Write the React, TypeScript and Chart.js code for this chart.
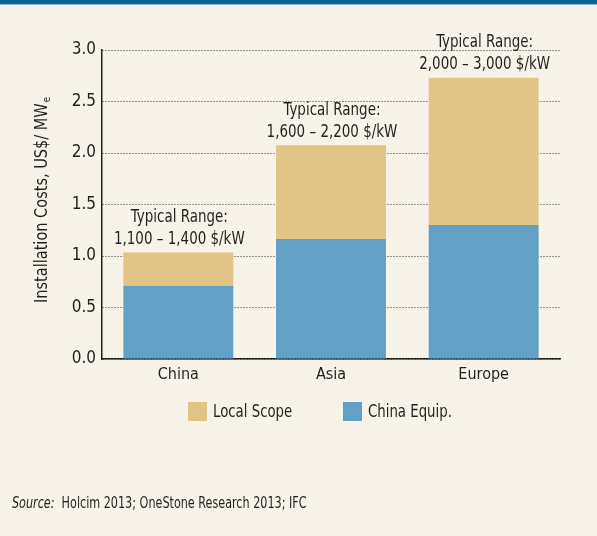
import React, { useEffect, useRef } from "react";
import { Chart, registerables } from "chart.js";

Chart.register(...registerables);

const categories = ["China", "Asia", "Europe"];
const seriesNames = ["China Equip.", "Local Scope"];
const chinaEquip = [0.71, 1.165, 1.3];
const localScope = [0.325, 0.91, 1.43];
const rangeLabels = ["1,100 – 1,400 $/kW", "1,600 – 2,200 $/kW", "2,000 – 3,000 $/kW"];
const yTicks = [0, 0.5, 1.0, 1.5, 2.0, 2.5, 3.0];
const yTitle = "Installation Costs, US$/ MW";
const yTitleSub = "e";
const sourceLabel = "Source:";
const sourceText = "Holcim 2013; OneStone Research 2013; IFC";

const BLUE = "#62a0c5";
const TAN = "#e3c487";
const BG = "#f7f3e8";
const INK = "#231f20";
const FONT = '"Liberation Sans Narrow", "DejaVu Sans Condensed", "Roboto Condensed", "Liberation Sans", sans-serif';
const SQUEEZE = 0.88;

const annotationPlugin = {
  id: "rangeAnnotations",
  afterDatasetsDraw(chart: any) {
    const ctx = chart.ctx;
    const meta = chart.getDatasetMeta(chart.data.datasets.length - 1);
    meta.data.forEach((bar: any, i: number) => {
      ctx.save();
      ctx.font = `17px ${FONT}`;
      ctx.fillStyle = INK;
      ctx.textAlign = "center";
      ctx.textBaseline = "middle";
      ctx.translate(bar.x + 1, bar.y);
      ctx.scale(SQUEEZE, 1);
      ctx.fillText("Typical Range:", 0, -35);
      ctx.fillText(rangeLabels[i], 0, -13);
      ctx.restore();
    });
  },
};

const yTitlePlugin = {
  id: "yTitleSub",
  afterDraw(chart: any) {
    const ctx = chart.ctx;
    const area = chart.chartArea;
    ctx.save();
    ctx.font = `17px ${FONT}`;
    const w = ctx.measureText(yTitle).width;
    ctx.font = `10px ${FONT}`;
    const ew = ctx.measureText(yTitleSub).width;
    const total = w + ew;
    ctx.translate(47, (area.top + area.bottom) / 2 - 4);
    ctx.rotate(-Math.PI / 2);
    ctx.scale(0.95, 1);
    ctx.fillStyle = INK;
    ctx.textBaseline = "alphabetic";
    ctx.textAlign = "left";
    ctx.font = `17px ${FONT}`;
    ctx.fillText(yTitle, -total / 2, 0);
    ctx.font = `10px ${FONT}`;
    ctx.fillText(yTitleSub, -total / 2 + w + 1, 3);
    ctx.restore();
  },
};

export default function App() {
  const ref = useRef<HTMLCanvasElement | null>(null);

  useEffect(() => {
    document.body.style.margin = "0";
    const canvas = ref.current;
    if (!canvas) return;
    const chart = new Chart(canvas, {
      type: "bar",
      data: {
        labels: categories,
        datasets: [
          {
            label: seriesNames[0],
            data: chinaEquip,
            backgroundColor: BLUE,
            barPercentage: 0.8,
            categoryPercentage: 0.9,
          },
          {
            label: seriesNames[1],
            data: localScope,
            backgroundColor: TAN,
            barPercentage: 0.8,
            categoryPercentage: 0.9,
          },
        ],
      },
      options: {
        responsive: false,
        animation: false,
        layout: { padding: { left: 0, right: 37, top: 50, bottom: 147 } },
        plugins: {
          legend: { display: false },
          tooltip: { enabled: false },
          title: { display: false },
        },
        scales: {
          x: {
            stacked: true,
            grid: { display: false, drawTicks: false },
            border: { display: true, color: INK, width: 1.5 },
            ticks: { color: INK, font: { family: FONT, size: 16 }, padding: 6 },
            afterFit: (s: any) => {
              s.height = 30;
            },
          },
          y: {
            stacked: true,
            min: 0,
            max: 3,
            afterBuildTicks: (s: any) => {
              s.ticks = yTicks.map((v) => ({ value: v }));
            },
            ticks: {
              color: INK,
              font: { family: FONT, size: 17 },
              padding: 6,
              callback: (v: any) => Number(v).toFixed(1),
            },
            grid: { color: "#333333", lineWidth: 1, drawTicks: false },
            border: { display: true, color: INK, width: 1.5, dash: [1, 2] },
            afterFit: (s: any) => {
              s.width = 102;
            },
          },
        },
      },
      plugins: [annotationPlugin, yTitlePlugin],
    });
    return () => chart.destroy();
  }, []);

  const legendItems = [
    { name: seriesNames[1], color: TAN, x: 188 },
    { name: seriesNames[0], color: BLUE, x: 343 },
  ];

  return (
    <div
      style={{
        position: "absolute",
        left: 0,
        top: 0,
        width: 597,
        height: 536,
        background: BG,
        overflow: "hidden",
        fontFamily: FONT,
        color: INK,
      }}
    >
      <div style={{ position: "absolute", left: 0, top: 0, width: 597, height: 4, background: "#0b6596" }} />
      <div style={{ position: "absolute", left: 0, top: 4, width: 597, height: 1, background: "#8cb6cf" }} />
      <canvas ref={ref} width={597} height={536} style={{ position: "absolute", left: 0, top: 0 }} />
      {legendItems.map((it) => (
        <div key={it.name} style={{ position: "absolute", left: it.x, top: 402, height: 19, display: "flex", alignItems: "center" }}>
          <div style={{ width: 19, height: 19, background: it.color, flex: "none" }} />
          <span
            style={{
              marginLeft: 6,
              fontSize: 17,
              lineHeight: "19px",
              whiteSpace: "nowrap",
              display: "inline-block",
              transform: "scaleX(0.87)",
              transformOrigin: "left center",
            }}
          >
            {it.name}
          </span>
        </div>
      ))}
      <div
        style={{
          position: "absolute",
          left: 12,
          top: 494,
          fontSize: 15,
          lineHeight: "18px",
          whiteSpace: "nowrap",
          transform: "scaleX(0.83)",
          transformOrigin: "left center",
        }}
      >
        <i>{sourceLabel}</i>
        {"\u00a0 " + sourceText}
      </div>
    </div>
  );
}
